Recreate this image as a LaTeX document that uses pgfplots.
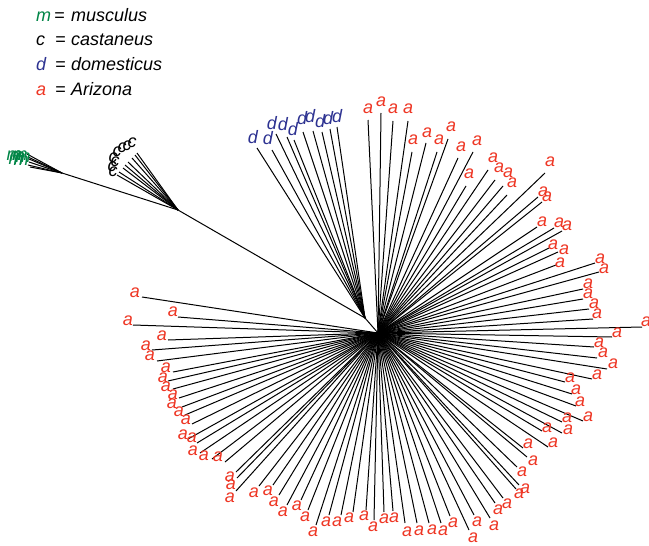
\documentclass[border=0pt]{standalone}
\usepackage{fontspec}
\setmainfont{Liberation Sans}
\usepackage{pgfplots}
\usepackage{pgfplotstable}
\pgfplotsset{compat=1.18}
\definecolor{mgreen}{RGB}{0,133,70}
\definecolor{dblue}{RGB}{45,50,145}
\definecolor{ared}{RGB}{238,54,36}
\newcommand\lblfont{\fontsize{18bp}{18bp}\selectfont\itshape}

% tips (tx,ty) and label centres (lx,ly), picture pixels, y downwards
\pgfplotstableread{
tx ty lx ly
27 154 14 156
28 157 17 157
29 159 20 156
29 162 23 158
28 165 16 160
30 167 21 161
}\mtab
\pgfplotstableread{
tx ty lx ly
137 153 132 143
135 155 127 146
132 158 122 148
128 162 117 152
125 165 113 158
123 168 115 162
119 172 112 167
117 175 113 172
}\ctab
\pgfplotstableread{
tx ty lx ly
257 148 253 137
272 150 268 138
276 134 272 123
287 137 283 124
294 140 293 129
303 132 302 118
313 131 310 116
322 132 320 121
330 129 328 118
337 127 337 116
}\dtab
\pgfplotstableread{
tx ty lx ly
368 120 368 109
381 113 381 102
393 121 393 109
408 121 408 109
412 152 413 140
426 143 427 133
437 152 439 140
448 139 451 127
458 158 461 147
473 152 477 141
466 186 469 174
488 170 493 158
495 180 499 168
503 186 508 173
507 195 512 183
545 173 550 162
538 197 543 192
542 202 547 197
537 227 542 222
554 228 559 223
562 231 567 226
549 248 553 245
558 252 564 250
556 265 560 263
595 263 600 259
599 272 604 269
583 289 588 284
583 299 588 294
589 309 594 304
593 319 597 314
642 327 646 322
612 337 617 333
594 347 599 343
597 358 603 353
607 369 613 364
592 379 597 375
565 382 570 378
572 394 576 390
576 406 580 402
583 421 588 417
562 422 567 418
542 431 547 428
562 433 568 430
548 447 553 443
523 448 528 444
527 457 533 461
517 467 522 472
519 485 525 489
516 489 519 494
503 498 507 504
495 503 498 510
490 518 494 526
474 515 477 522
469 530 473 538
450 516 453 523
441 523 443 531
429 523 432 530
417 523 419 531
405 523 407 532
393 511 394 518
384 512 384 519
374 520 373 527
366 510 364 516
353 512 349 518
341 515 337 522
329 515 326 522
316 525 313 532
308 510 305 517
301 500 297 506
287 505 283 512
279 495 274 502
273 485 268 491
259 486 254 493
236 491 230 498
237 478 231 485
236 472 230 477
225 462 218 457
212 459 204 456
200 453 193 451
197 443 192 438
188 439 183 435
192 424 186 420
185 415 179 412
182 407 172 404
179 398 173 395
173 389 166 387
168 381 163 378
173 372 166 368
157 361 150 356
152 350 146 346
168 340 162 336
133 325 128 321
178 317 173 312
142 297 135 293
}\atab

\begin{document}
\begin{tikzpicture}
\begin{axis}[
  width=649bp, height=546bp, scale only axis,
  xmin=0, xmax=649, ymin=0, ymax=546, y dir=reverse,
  hide axis, clip=false,
  branch/.style={black, line width=1.0bp, line cap=butt, -},
  tiplab/.style={draw=none, mark=none, nodes near coords={#1},
    nodes near coords align=center,
    every node near coord/.append style={font=\lblfont, inner sep=0pt}},
]
% internal branches
\addplot[branch] coordinates {(62,173) (178,210) (365,318) (378,333)};
% terminal branches
\addplot[branch, quiver={u=62-\thisrow{tx}, v=173-\thisrow{ty}, every arrow/.style={-}}] table[x=tx,y=ty] {\mtab};
\addplot[branch, quiver={u=178-\thisrow{tx}, v=210-\thisrow{ty}, every arrow/.style={-}}] table[x=tx,y=ty] {\ctab};
\addplot[branch, quiver={u=365-\thisrow{tx}, v=318-\thisrow{ty}, every arrow/.style={-}}] table[x=tx,y=ty] {\dtab};
\addplot[branch, quiver={u=378-\thisrow{tx}, v=333-\thisrow{ty}, every arrow/.style={-}}] table[x=tx,y=ty] {\atab};
% tip labels
\addplot[tiplab=m, every node near coord/.append style={text=mgreen}] table[x=lx,y=ly] {\mtab};
\addplot[tiplab=c, every node near coord/.append style={text=black}] table[x=lx,y=ly] {\ctab};
\addplot[tiplab=d, every node near coord/.append style={text=dblue}] table[x=lx,y=ly] {\dtab};
\addplot[tiplab=a, every node near coord/.append style={text=ared}] table[x=lx,y=ly] {\atab};
% key
\node[anchor=base west, inner sep=0pt, font=\lblfont, text=mgreen] at (axis cs:36,22) {m};
\node[anchor=base west, inner sep=0pt, font=\lblfont] at (axis cs:54,22) {=};
\node[anchor=base west, inner sep=0pt, font=\lblfont] at (axis cs:71,22) {musculus};
\node[anchor=base west, inner sep=0pt, font=\lblfont] at (axis cs:36,46) {c};
\node[anchor=base west, inner sep=0pt, font=\lblfont] at (axis cs:55,46) {=};
\node[anchor=base west, inner sep=0pt, font=\lblfont] at (axis cs:71,46) {castaneus};
\node[anchor=base west, inner sep=0pt, font=\lblfont, text=dblue] at (axis cs:36,71) {d};
\node[anchor=base west, inner sep=0pt, font=\lblfont] at (axis cs:55,71) {=};
\node[anchor=base west, inner sep=0pt, font=\lblfont] at (axis cs:71,71) {domesticus};
\node[anchor=base west, inner sep=0pt, font=\lblfont, text=ared] at (axis cs:36,96) {a};
\node[anchor=base west, inner sep=0pt, font=\lblfont] at (axis cs:55,96) {=};
\node[anchor=base west, inner sep=0pt, font=\lblfont] at (axis cs:71,96) {Arizona};
\end{axis}
\pgfresetboundingbox
\path[use as bounding box] (0,0) rectangle (649bp,546bp);
\end{tikzpicture}
\end{document}
